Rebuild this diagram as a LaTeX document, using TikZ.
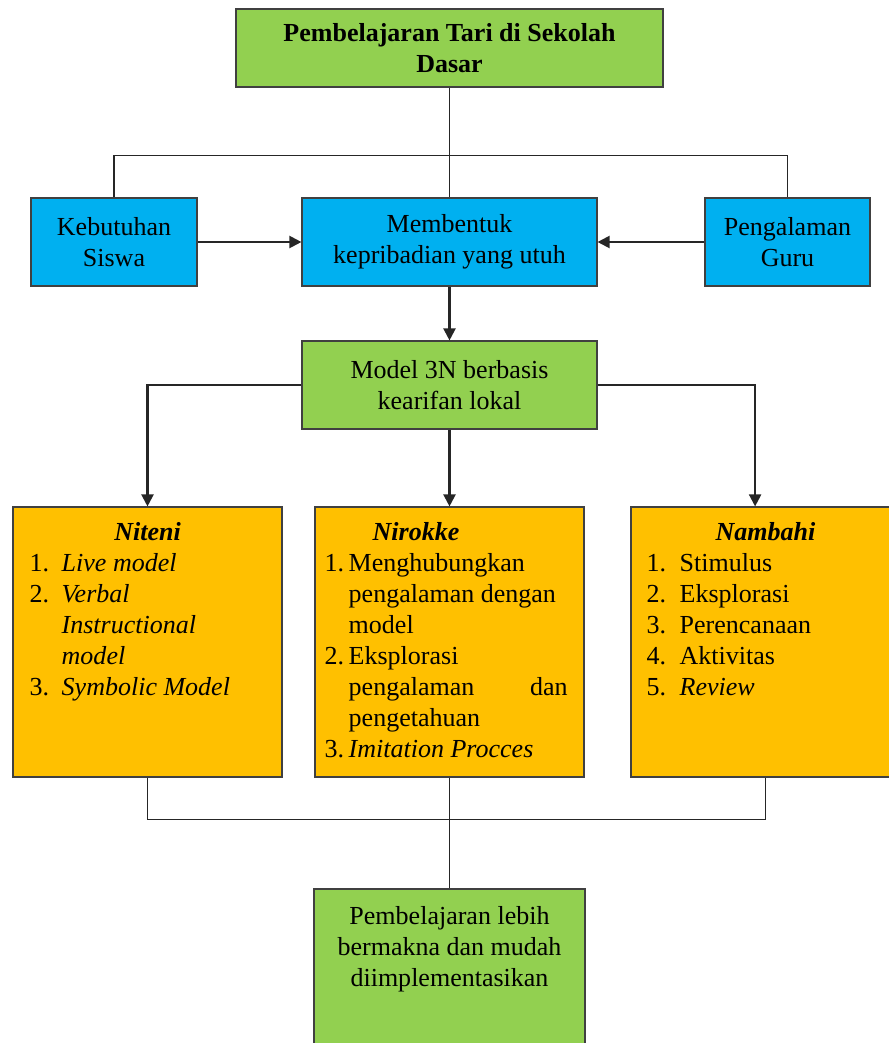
\documentclass[tikz,border=0pt]{standalone}
\usepackage{fontspec}
\setmainfont{Liberation Serif}
\usetikzlibrary{arrows.meta,positioning}

\definecolor{boxgreen}{HTML}{92D050}
\definecolor{boxblue}{HTML}{00B0F0}
\definecolor{boxorange}{HTML}{FFC000}

\tikzset{
  box/.style={draw=black!75, line width=0.8pt, inner sep=0pt, align=center, font=\fontsize{18.5}{22}\selectfont},
  link/.style={black!85, line width=1.2pt},
  arr/.style={link, line width=1.5pt, -{Triangle[length=3mm,width=3mm]}},
  head/.style={inner sep=0pt, font=\fontsize{18.5}{22}\selectfont\bfseries\itshape, text height=15.4pt, text depth=6.6pt},
  lst/.style={inner sep=0pt, font=\fontsize{18.5}{22}\selectfont, anchor=north west},
}

\begin{document}
\begin{tikzpicture}[x=0.25mm, y=-0.25mm]
  \useasboundingbox (0,0) rectangle (888,1043);

  % top row
  \node[box, fill=boxgreen, minimum width=106.75mm, minimum height=19.5mm, font=\fontsize{18.5}{22}\selectfont\bfseries] (tari) at (449.5,48) {Pembelajaran Tari di Sekolah\\Dasar};
  \node[box, fill=boxblue, minimum width=41.5mm, minimum height=22mm] (siswa) at (114,242) {Kebutuhan\\Siswa};
  \node[box, fill=boxblue, minimum width=73.75mm, minimum height=22mm] (pribadi) at (449.5,242) {Membentuk\\kepribadian yang utuh};
  \node[box, fill=boxblue, minimum width=41.25mm, minimum height=22mm] (guru) at (787.5,242) {Pengalaman\\Guru};
  \node[box, fill=boxgreen, minimum width=73.75mm, minimum height=22mm] (model) at (449.5,385) {Model 3N berbasis\\kearifan lokal};

  % the three 3N boxes
  \node[box, fill=boxorange, minimum width=67.25mm, minimum height=67.5mm] (niteni) at (147.5,642) {};
  \node[box, fill=boxorange, minimum width=67.25mm, minimum height=67.5mm] (nirokke) at (449.5,642) {};
  \node[box, fill=boxorange, minimum width=67.25mm, minimum height=67.5mm] (nambahi) at (765.5,642) {};

  \node[head, below=3mm of niteni.north] (nitenihead) {Niteni};
  \node[lst] (nitenilist) at ([xshift=4.25mm]niteni.west |- nitenihead.south) {%
    \begin{tabular}{@{}p{8mm}@{}l@{}}
      1. & \textit{Live model}\\
      2. & \textit{Verbal}\\
         & \textit{Instructional}\\
         & \textit{model}\\
      3. & \textit{Symbolic Model}
    \end{tabular}};

  \node[head, anchor=north west] (nirokkehead) at ([xshift=14.5mm,yshift=-3mm]nirokke.north west) {Nirokke};
  \node[lst] (nirokkelist) at ([xshift=2.5mm]nirokke.west |- nirokkehead.south) {%
    \begin{tabular}{@{}p{6mm}@{}l@{}}
      1. & Menghubungkan\\
         & pengalaman dengan\\
         & model\\
      2. & Eksplorasi\\
         & \makebox[54.75mm][s]{pengalaman dan}\\
         & pengetahuan\\
      3. & \textit{Imitation Procces}
    \end{tabular}};

  \node[head, below=3mm of nambahi.north] (nambahihead) {Nambahi};
  \node[lst] (nambahilist) at ([xshift=4mm]nambahi.west |- nambahihead.south) {%
    \begin{tabular}{@{}p{8.25mm}@{}l@{}}
      1. & Stimulus\\
      2. & Eksplorasi\\
      3. & Perencanaan\\
      4. & Aktivitas\\
      5. & \textit{Review}
    \end{tabular}};

  % result
  \node[box, fill=boxgreen, minimum width=67.75mm, minimum height=45mm] (hasil) at (449.5,979) {};
  \node[inner sep=0pt, align=center, font=\fontsize{18.5}{22}\selectfont, below=4.5mm of hasil.north] (hasiltext) {Pembelajaran lebih\\bermakna dan mudah\\diimplementasikan};

  % connectors
  \draw[link] (tari) -- (pribadi);
  \draw[link] (siswa.north) -- ++(0,-42) -| (guru.north);
  \draw[arr] (siswa) -- (pribadi);
  \draw[arr] (guru) -- (pribadi);
  \draw[arr] (pribadi) -- (model);
  \draw[arr] (model.west) -| (niteni.north);
  \draw[arr] (model.east) -| ([xshift=-2.6mm]nambahi.north);
  \draw[arr] (model) -- (nirokke);
  \draw[link] (niteni.south) -- ++(0,42) -| (nambahi.south);
  \draw[link] (nirokke) -- (hasil);
\end{tikzpicture}
\end{document}
